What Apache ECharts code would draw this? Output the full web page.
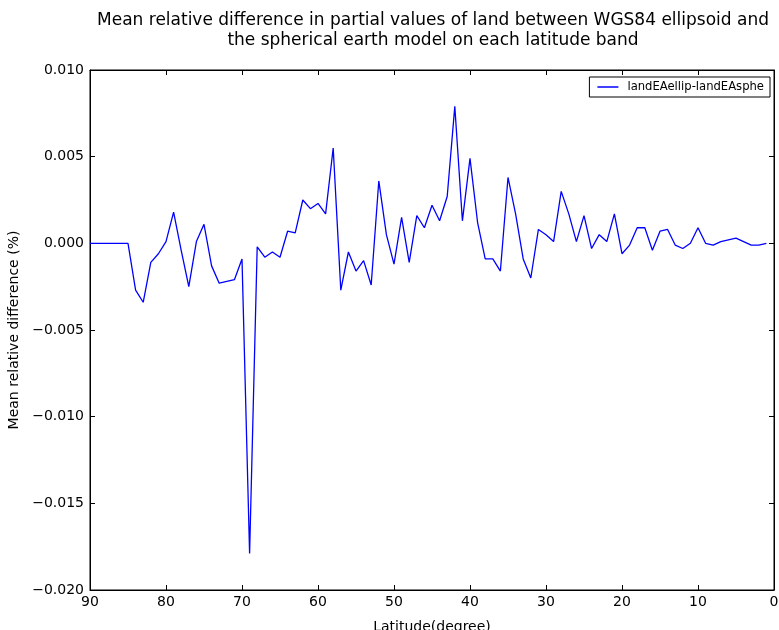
<!DOCTYPE html>
<html>
<head>
<meta charset="utf-8">
<script src="https://cdn.jsdelivr.net/npm/echarts@6/dist/echarts.min.js"></script>
<style>
  html, body { margin: 0; padding: 0; background: #fff; }
  #chart { width: 779px; height: 630px; }
</style>
</head>
<body>
<div id="chart"></div>
<script>
// Latitude bands, 90 down to 1 degree
const latitudes = [];
for (let lat = 90; lat >= 1; lat--) latitudes.push(lat);

// Mean relative difference (%) for each band, same order as latitudes
const meanDiff = [
  0, 0, 0, 0, 0, 0,
  -0.0027, -0.0034, -0.0011, -0.0006, 0.0001, 0.0018, -0.0004, -0.0025, 0.0001, 0.0011,
  -0.0013, -0.0023, -0.0022, -0.0021, -0.0009, -0.0179, -0.0002, -0.0008, -0.0005, -0.0008,
  0.0007, 0.0006, 0.0025, 0.0020, 0.0023, 0.0017, 0.0055, -0.0027, -0.0005, -0.0016,
  -0.0010, -0.0024, 0.0036, 0.0005, -0.0012, 0.0015, -0.0011, 0.0016, 0.0009, 0.0022,
  0.0013, 0.0027, 0.0079, 0.0013, 0.0049, 0.0012, -0.0009, -0.0009, -0.0016, 0.0038,
  0.0017, -0.0009, -0.0020, 0.0008, 0.0005, 0.0001, 0.0030, 0.0017, 0.0001, 0.0016,
  -0.0003, 0.0005, 0.0001, 0.0017, -0.0006, -0.0001, 0.0009, 0.0009, -0.0004, 0.0007,
  0.0008, -0.0001, -0.0003, 0.0000, 0.0009, 0.0000, -0.0001, 0.0001, 0.0002, 0.0003,
  0.0001, -0.0001, -0.0001, 0.0000
];

const seriesName = 'landEAellip-landEAsphe';
const titleLines = [
  'Mean relative difference in partial values of land between WGS84 ellipsoid and',
  'the spherical earth model on each latitude band'
];
const xTickLabels = ['90', '80', '70', '60', '50', '40', '30', '20', '10', '0'];

const FONT = 'DejaVu Sans';
const fmtY = v => (v < 0 ? '\u2212' : '') + Math.abs(v).toFixed(3);

const chart = echarts.init(document.getElementById('chart'), null, { renderer: 'canvas' });

const tickStyle = { show: true, inside: true, length: 5, lineStyle: { color: '#000', width: 1 } };
const lineStyle = { show: true, onZero: false, lineStyle: { color: '#000', width: 1 } };

chart.setOption({
  animation: false,
  backgroundColor: '#fff',
  title: {
    text: titleLines.join('\n'),
    left: 428,
    textAlign: 'center',
    top: 6,
    textStyle: { fontFamily: FONT, fontSize: 17, fontWeight: 'normal', color: '#000', lineHeight: 20 }
  },
  legend: {
    data: [seriesName],
    right: 9,
    top: 77,
    orient: 'vertical',
    borderColor: '#000',
    borderWidth: 1,
    borderRadius: 0,
    padding: [4, 6, 4, 8],
    itemWidth: 21,
    itemHeight: 1.5,
    itemGap: 0,
    icon: 'rect',
    textStyle: { fontFamily: FONT, fontSize: 11.6, color: '#000', padding: [0, 0, 0, 4] }
  },
  grid: {
    left: 90, right: 5, top: 70, bottom: 40,
    outerBoundsMode: 'none',
    containLabel: false,
    show: true, borderColor: '#000', borderWidth: 1, backgroundColor: '#fff'
  },
  xAxis: [
    {
      type: 'value', inverse: true, min: 0, max: 90, interval: 10,
      name: 'Latitude(degree)', nameLocation: 'middle', nameGap: 30,
      nameTextStyle: { fontFamily: FONT, fontSize: 14, color: '#000' },
      axisLine: lineStyle, axisTick: tickStyle, splitLine: { show: false },
      axisLabel: {
        fontFamily: FONT, fontSize: 14, color: '#000', margin: 5,
        formatter: v => xTickLabels[xTickLabels.length - 1 - Math.round(v / 10)]
      }
    },
    {
      type: 'value', inverse: true, min: 0, max: 90, interval: 10, position: 'top',
      axisLine: lineStyle, axisTick: tickStyle, splitLine: { show: false },
      axisLabel: { show: false }
    }
  ],
  yAxis: [
    {
      type: 'value', min: -0.02, max: 0.01, interval: 0.005, position: 'left',
      name: 'Mean relative difference (%)', nameLocation: 'middle', nameGap: 64,
      nameTextStyle: { fontFamily: FONT, fontSize: 14, color: '#000' },
      axisLine: lineStyle, axisTick: tickStyle, splitLine: { show: false },
      axisLabel: { fontFamily: FONT, fontSize: 14, color: '#000', margin: 6, formatter: fmtY }
    },
    {
      type: 'value', min: -0.02, max: 0.01, interval: 0.005, position: 'right',
      axisLine: lineStyle, axisTick: tickStyle, splitLine: { show: false },
      axisLabel: { show: false }
    }
  ],
  series: [
    {
      name: seriesName,
      type: 'line',
      xAxisIndex: 0,
      yAxisIndex: 0,
      data: latitudes.map((lat, i) => [lat, meanDiff[i]]),
      showSymbol: false,
      symbol: 'none',
      color: '#0000ff',
      lineStyle: { color: '#0000ff', width: 1.3 }
    }
  ]
});
</script>
</body>
</html>
